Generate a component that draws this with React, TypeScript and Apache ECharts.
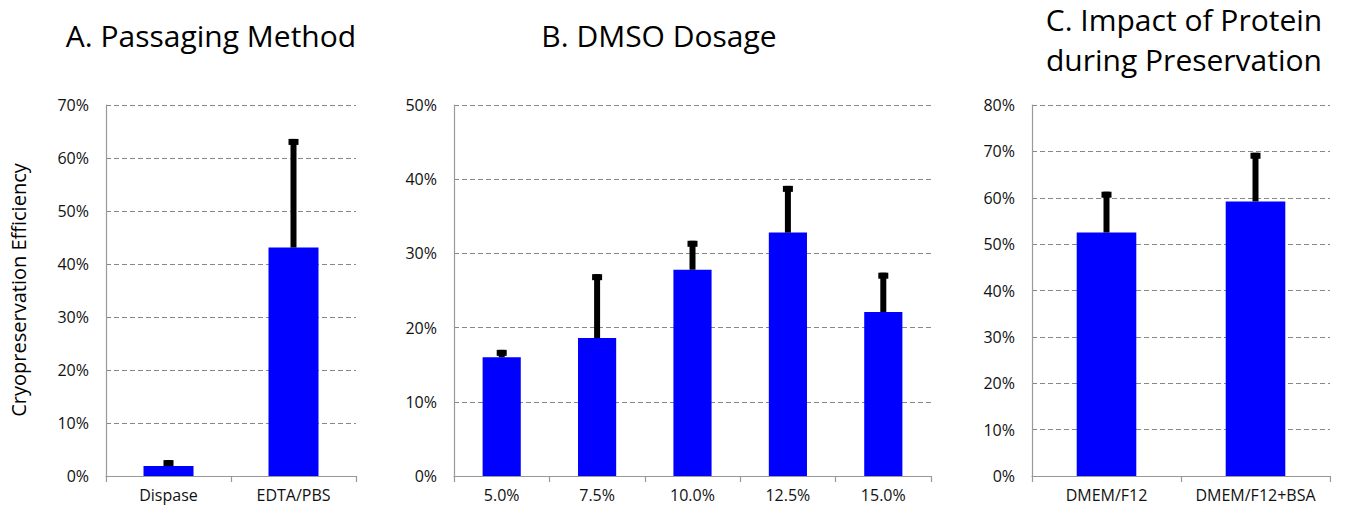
import React, { useEffect, useRef } from 'react';
import * as echarts from 'echarts';

// Panel A: Passaging Method
const passagingCategories = ['Dispase', 'EDTA/PBS'];
const passagingMeans = [1.9, 43.1];
const passagingUpper = [3.0, 63.6];

// Panel B: DMSO Dosage
const dmsoCategories = ['5.0%', '7.5%', '10.0%', '12.5%', '15.0%'];
const dmsoMeans = [16.0, 18.6, 27.8, 32.8, 22.1];
const dmsoUpper = [17.0, 27.2, 31.7, 39.1, 27.4];

// Panel C: Impact of Protein during Preservation
const proteinCategories = ['DMEM/F12', 'DMEM/F12+BSA'];
const proteinMeans = [52.5, 59.2];
const proteinUpper = [61.3, 69.7];

// Y axis maxima (percent)
const axisMaxima = [70, 50, 80];

const titleA = 'A. Passaging Method';
const titleB = 'B. DMSO Dosage';
const titleC1 = 'C. Impact of Protein';
const titleC2 = 'during Preservation';
const yAxisTitle = 'Cryopreservation Efficiency';

const FONT = '"Open Sans", "Noto Sans", sans-serif';

export default function App() {
  const ref = useRef<HTMLDivElement>(null);

  useEffect(() => {
    document.body.style.margin = '0';
    const chart = echarts.init(ref.current as HTMLDivElement, null, { renderer: 'svg' });

    const panels = [
      { cats: passagingCategories, means: passagingMeans, upper: passagingUpper, max: axisMaxima[0], grid: { left: 106, top: 105, width: 250, height: 371 } },
      { cats: dmsoCategories, means: dmsoMeans, upper: dmsoUpper, max: axisMaxima[1], grid: { left: 454, top: 105, width: 477, height: 371 } },
      { cats: proteinCategories, means: proteinMeans, upper: proteinUpper, max: axisMaxima[2], grid: { left: 1032, top: 105, width: 298, height: 371 } },
    ];

    const errorRender = (params: any, api: any) => {
      const idx = api.value(0);
      const top = api.coord([idx, api.value(2)]);
      const base = api.coord([idx, api.value(1)]);
      const lw = 6;
      const cw = 10;
      const ch = 6;
      return {
        type: 'group',
        children: [
          { type: 'rect', shape: { x: top[0] - lw / 2, y: top[1], width: lw, height: base[1] - top[1] }, style: { fill: '#000' } },
          { type: 'rect', shape: { x: top[0] - cw / 2, y: top[1], width: cw, height: ch }, style: { fill: '#000' } },
        ],
      };
    };

    const option: any = {
      animation: false,
      backgroundColor: '#fff',
      grid: panels.map((p) => ({ ...p.grid, containLabel: false })),
      xAxis: panels.map((p, i) => ({
        type: 'category',
        gridIndex: i,
        data: p.cats,
        axisLine: { show: true, lineStyle: { color: '#999', width: 1.2 } },
        axisTick: { show: true, length: 6, lineStyle: { color: '#999', width: 1.2 } },
        axisLabel: { color: '#111', fontSize: 16, fontFamily: FONT, margin: 11, interval: 0 },
        splitLine: { show: false },
      })),
      yAxis: panels.map((p, i) => ({
        type: 'value',
        gridIndex: i,
        min: 0,
        max: p.max,
        interval: 10,
        axisLine: { show: true, lineStyle: { color: '#999', width: 1.2 } },
        axisTick: { show: false },
        axisLabel: { color: '#111', fontSize: 16, fontFamily: FONT, margin: 17, formatter: '{value}%' },
        splitLine: { show: true, lineStyle: { color: '#888', width: 1.2, type: [5, 3] } },
      })),
      series: [
        ...panels.map((p, i) => ({
          type: 'bar',
          xAxisIndex: i,
          yAxisIndex: i,
          data: p.means,
          barWidth: '40%',
          itemStyle: { color: '#0000FF' },
          z: 2,
        })),
        ...panels.map((p, i) => ({
          type: 'custom',
          xAxisIndex: i,
          yAxisIndex: i,
          data: p.cats.map((c, j) => [j, p.means[j], p.upper[j]]),
          encode: { x: 0, y: [1, 2] },
          renderItem: errorRender,
          z: 3,
        })),
      ],
      graphic: [
        { type: 'text', x: 211, y: 35, style: { text: titleA, fontSize: 30, fontFamily: FONT, fill: '#000', align: 'center', verticalAlign: 'middle' } },
        { type: 'text', x: 659, y: 35, style: { text: titleB, fontSize: 30, fontFamily: FONT, fill: '#000', align: 'center', verticalAlign: 'middle' } },
        { type: 'text', x: 1184, y: 19, style: { text: titleC1, fontSize: 30, fontFamily: FONT, fill: '#000', align: 'center', verticalAlign: 'middle' } },
        { type: 'text', x: 1184, y: 59, style: { text: titleC2, fontSize: 30, fontFamily: FONT, fill: '#000', align: 'center', verticalAlign: 'middle' } },
        { type: 'text', x: 18, y: 290, rotation: Math.PI / 2, style: { text: yAxisTitle, fontSize: 20, fontFamily: FONT, fill: '#000', align: 'center', verticalAlign: 'middle' } },
      ],
    };

    chart.setOption(option);
    return () => chart.dispose();
  }, []);

  return <div ref={ref} style={{ width: 1345, height: 512 }} />;
}
